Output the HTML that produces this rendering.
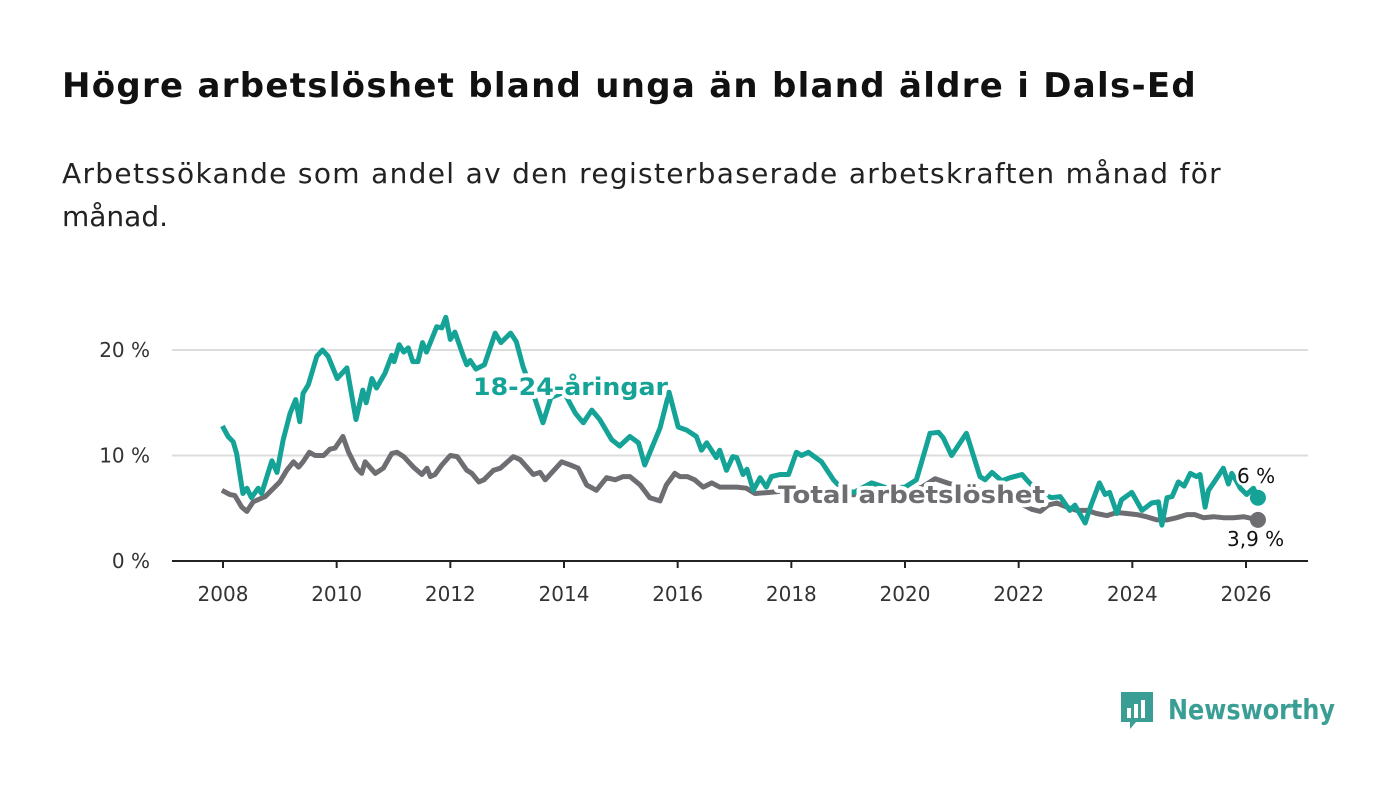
<!DOCTYPE html>
<html><head><meta charset="utf-8"><style>
body{margin:0;background:#fff;width:1400px;height:794px;overflow:hidden;font-family:"DejaVu Sans","Liberation Sans",sans-serif}
h1{position:absolute;left:62px;top:66px;margin:0;font-size:34px;font-weight:bold;color:#111;white-space:nowrap}
.sub{position:absolute;left:62px;margin:0;font-size:28px;color:#222;white-space:nowrap}
svg{position:absolute;left:0;top:0}
</style></head><body>
<h1 id="ttl">Högre arbetslöshet bland unga än bland äldre i Dals-Ed</h1>
<div class="sub" id="s1" style="top:157px">Arbetssökande som andel av den registerbaserade arbetskraften månad för</div>
<div class="sub" id="s2" style="top:200px">månad.</div>
<svg id="chart" width="1400" height="794"></svg>
<script>
const youthYears=[2007.99,2008.09,2008.18,2008.24,2008.35,2008.42,2008.5,2008.62,2008.68,2008.86,2008.95,2009.06,2009.18,2009.28,2009.35,2009.41,2009.5,2009.65,2009.75,2009.85,2010.01,2010.18,2010.34,2010.46,2010.52,2010.62,2010.7,2010.85,2010.97,2011.01,2011.1,2011.18,2011.26,2011.34,2011.43,2011.51,2011.58,2011.76,2011.85,2011.92,2012.0,2012.08,2012.23,2012.29,2012.35,2012.45,2012.6,2012.79,2012.89,2013.06,2013.16,2013.28,2013.45,2013.63,2013.77,2014.0,2014.2,2014.34,2014.49,2014.63,2014.84,2014.98,2015.16,2015.31,2015.42,2015.69,2015.85,2016.01,2016.16,2016.33,2016.42,2016.51,2016.68,2016.74,2016.86,2016.97,2017.04,2017.15,2017.22,2017.33,2017.45,2017.56,2017.65,2017.8,2017.95,2018.09,2018.18,2018.3,2018.53,2018.74,2018.9,2019.1,2019.41,2019.7,2020.0,2020.2,2020.44,2020.59,2020.67,2020.82,2021.08,2021.32,2021.41,2021.53,2021.7,2021.85,2022.06,2022.14,2022.35,2022.58,2022.73,2022.9,2022.99,2023.17,2023.26,2023.42,2023.52,2023.6,2023.73,2023.81,2023.99,2024.17,2024.34,2024.46,2024.52,2024.61,2024.7,2024.81,2024.91,2025.02,2025.13,2025.19,2025.28,2025.34,2025.43,2025.6,2025.69,2025.75,2025.83,2025.9,2026.01,2026.13,2026.21];
const youthVals=[12.8,11.8,11.3,10.2,6.4,6.9,6.0,6.9,6.4,9.5,8.4,11.5,14,15.3,13.2,15.9,16.7,19.4,20,19.4,17.3,18.3,13.4,16.2,15,17.3,16.4,17.8,19.5,18.9,20.5,19.8,20.2,18.9,18.9,20.7,19.8,22.2,22.1,23.1,21,21.7,19.4,18.6,19,18.2,18.6,21.6,20.7,21.6,20.8,18.4,16,13.1,15.5,16,14,13.1,14.3,13.4,11.5,10.9,11.8,11.2,9.1,12.6,16,12.7,12.4,11.8,10.5,11.2,9.8,10.5,8.6,9.9,9.8,8.2,8.7,6.7,7.9,7,8,8.2,8.2,10.3,10,10.3,9.4,7.7,6.8,6.5,7.4,6.9,7.0,7.7,12.1,12.2,11.7,10,12.1,8,7.7,8.4,7.6,7.9,8.2,7.7,6.5,6,6.1,4.8,5.3,3.6,5.1,7.4,6.3,6.5,4.5,5.8,6.5,4.8,5.5,5.6,3.4,6,6.1,7.5,7.1,8.3,8,8.2,5.1,6.7,7.4,8.8,7.3,8.3,7.6,6.9,6.3,6.9,6.0];
const totalYears=[2007.98,2008.12,2008.21,2008.33,2008.42,2008.53,2008.74,2008.89,2009.0,2009.12,2009.24,2009.33,2009.41,2009.52,2009.62,2009.77,2009.88,2009.97,2010.11,2010.21,2010.35,2010.44,2010.5,2010.68,2010.82,2010.97,2011.06,2011.18,2011.35,2011.5,2011.59,2011.65,2011.73,2011.85,2012.0,2012.12,2012.29,2012.38,2012.5,2012.59,2012.76,2012.88,2013.11,2013.23,2013.46,2013.58,2013.67,2013.96,2014.11,2014.25,2014.4,2014.57,2014.75,2014.9,2015.04,2015.16,2015.34,2015.51,2015.69,2015.8,2015.95,2016.04,2016.17,2016.3,2016.45,2016.6,2016.74,2017.04,2017.21,2017.36,2017.62,2018.0,2018.5,2019.0,2019.5,2020.0,2020.3,2020.53,2020.8,2021.1,2021.5,2021.9,2022.23,2022.38,2022.52,2022.67,2022.85,2023.02,2023.2,2023.37,2023.55,2023.73,2023.9,2024.08,2024.25,2024.43,2024.61,2024.78,2024.96,2025.1,2025.25,2025.43,2025.6,2025.78,2025.96,2026.13,2026.21];
const totalVals=[6.7,6.3,6.2,5.1,4.7,5.6,6.1,6.9,7.5,8.6,9.4,8.9,9.4,10.3,10,10,10.6,10.7,11.8,10.3,8.8,8.3,9.4,8.3,8.8,10.2,10.3,9.9,8.9,8.2,8.8,8,8.2,9.1,10,9.9,8.6,8.3,7.5,7.7,8.6,8.8,9.9,9.6,8.2,8.4,7.7,9.4,9.1,8.8,7.2,6.7,7.9,7.7,8,8,7.2,6,5.7,7.2,8.3,8,8,7.7,7,7.4,7,7,6.9,6.4,6.5,6.7,6.6,6.3,6.2,6.5,7.0,7.8,7.3,7.0,6.5,5.8,4.9,4.7,5.3,5.5,5.1,4.8,4.8,4.5,4.3,4.6,4.5,4.4,4.2,3.9,3.9,4.1,4.4,4.4,4.1,4.2,4.1,4.1,4.2,4.0,3.9];
const yTicks=[0,10,20];
const yTickLabels=["0 %","10 %","20 %"];
const xTicks=[2008,2010,2012,2014,2016,2018,2020,2022,2024,2026];
function fit(id,target){const e=document.getElementById(id);const n=e.textContent.length;const w=e.getBoundingClientRect().width;e.style.letterSpacing=((target-w)/n)+'px';}
fit('ttl',1135);fit('s1',1160);
const X=y=>223+(y-2008)*(1246-223)/18;
const Y=v=>561-v*10.55;
const svg=document.getElementById('chart');
const NS='http://www.w3.org/2000/svg';
function mk(t,a,p){const e=document.createElementNS(NS,t);for(const k in a)e.setAttribute(k,a[k]);(p||svg).appendChild(e);return e;}
yTicks.forEach((v,i)=>{
 if(v>0){const g=mk('line',{x1:172,x2:1308,y1:Y(v),y2:Y(v),stroke:'#dcdcdc','stroke-width':2});
 
 }
 const t=mk('text',{x:150,y:Y(v)+7,'text-anchor':'end','font-size':20,fill:'#333'});t.textContent=yTickLabels[i];
 
 
});
const ax=mk('line',{x1:172,x2:1308,y1:561,y2:561,stroke:'#222','stroke-width':2});


xTicks.forEach(yr=>{
 const tk=mk('line',{x1:X(yr),x2:X(yr),y1:561,y2:568,stroke:'#222','stroke-width':2});
 
 
 const t=mk('text',{x:X(yr),y:601,'text-anchor':'middle','font-size':20,fill:'#333'});t.textContent=yr;
 
 
});
function line(xs,vs,col,name){
 const d=xs.map((x,i)=>(i?'L':'M')+X(x).toFixed(1)+','+Y(vs[i]).toFixed(1)).join('');
 const p=mk('path',{d:d,fill:'none',stroke:col,'stroke-width':5,'stroke-linejoin':'round'});
 
 
 const c=mk('circle',{cx:X(xs[xs.length-1]),cy:Y(vs[vs.length-1]),r:8,fill:col});
 
 
}
line(totalYears,totalVals,'#6e6d72','total-line');
line(youthYears,youthVals,'#14a396','youth-line');
function lab(txt,x,y,col,size,bold,name,len){
 const a={x:x,y:y,'font-size':size,'font-weight':bold?'bold':'normal',fill:col,stroke:'#fff','stroke-width':bold?8:5,'paint-order':'stroke','stroke-linejoin':'round'};
 if(len){a.textLength=len;a.lengthAdjust='spacingAndGlyphs';}
 const t=mk('text',a);
 t.textContent=txt;
 
 
}
lab('18-24-åringar',473,395,'#14a396',24,true,'youth-series-label',195);
lab('Total arbetslöshet',778,503,'#6e6d72',24,true,'total-series-label',267);
lab('6 %',1237,483,'#111',20,false,'youth-end-value');
lab('3,9 %',1227,546,'#111',20,false,'total-end-value');
const lg=mk('g',{});


mk('path',{d:'M1121,692 h32 v30 h-17 l-6,7 v-7 h-9 z',fill:'#3a9e94'},lg);
mk('rect',{x:1127,y:708,width:4,height:10,fill:'#fff'},lg);
mk('rect',{x:1134,y:704,width:4,height:14,fill:'#fff'},lg);
mk('rect',{x:1141,y:700,width:4,height:18,fill:'#fff'},lg);
const lt=mk('text',{x:1168,y:719,'font-size':28,'font-weight':'bold',fill:'#3a9e94',textLength:167,lengthAdjust:'spacingAndGlyphs'},lg);lt.textContent='Newsworthy';
</script>
</body></html>
